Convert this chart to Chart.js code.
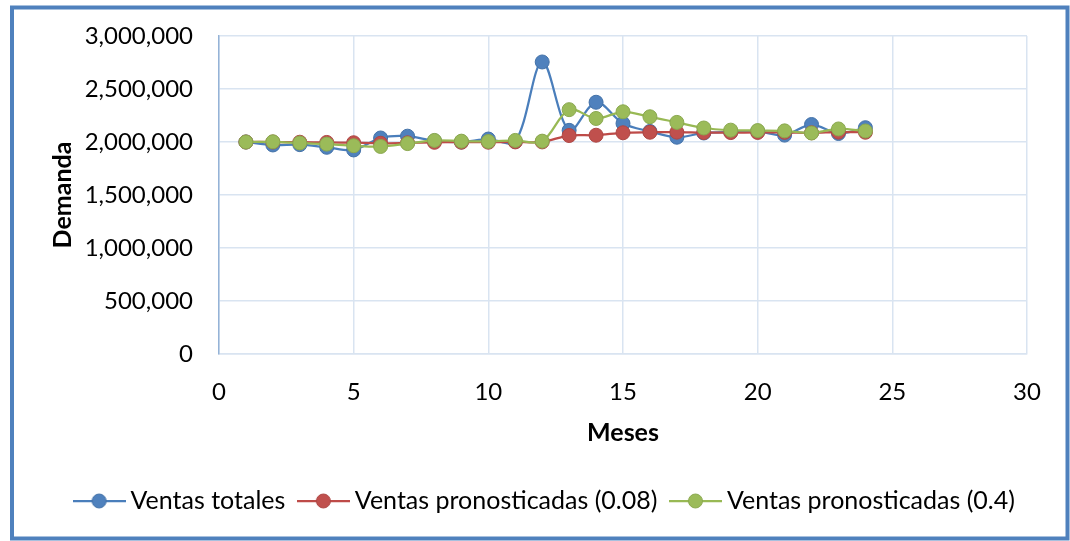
<!DOCTYPE html>
<html>
<head>
<meta charset="utf-8">
<script src="https://cdn.jsdelivr.net/npm/chart.js@4.4.1/dist/chart.umd.min.js"></script>
<style>
  html, body { margin: 0; padding: 0; background: #ffffff; }
  #wrap { position: relative; width: 1070px; height: 541px; }
</style>
</head>
<body>
<div id="wrap"><canvas id="c" width="1070" height="541"></canvas></div>
<script>
// ---- Data ----
const months = [1,2,3,4,5,6,7,8,9,10,11,12,13,14,15,16,17,18,19,20,21,22,23,24];
const ventasTotales = [2000000, 1972000, 1975000, 1950000, 1925000, 2038000, 2055000, 2010000, 2000000, 2028000, 2005000, 2755000, 2110000, 2375000, 2175000, 2100000, 2045000, 2085000, 2095000, 2100000, 2065000, 2165000, 2080000, 2135000];
const ventasPron008 = [2000000, 2000000, 1998000, 1996000, 1993000, 1988000, 1992000, 1997000, 1998000, 1998000, 2001000, 2001000, 2061000, 2064000, 2087000, 2092000, 2093000, 2089000, 2089000, 2090000, 2091000, 2087000, 2093000, 2092000];
const ventasPron04 = [2000000, 2002000, 1991000, 1980000, 1965000, 1958000, 1985000, 2015000, 2008000, 2005000, 2015000, 2008000, 2305000, 2222000, 2285000, 2238000, 2185000, 2132000, 2112000, 2108000, 2105000, 2085000, 2123000, 2104000];
const seriesNames = ['Ventas totales', 'Ventas pronosticadas (0.08)', 'Ventas pronosticadas (0.4)'];
const xTicks = [0, 5, 10, 15, 20, 25, 30];
const yTicks = [0, 500000, 1000000, 1500000, 2000000, 2500000, 3000000];

const FONT = 'Lato, "Open Sans", sans-serif';
const lineColors = ['#4a7ebb', '#be4b48', '#98b954'];
const fillColors = ['#4f81bd', '#c0504d', '#9bbb59'];
const edgeColors = ['#4472a8', '#ae4744', '#8aa84f'];

function toXY(vals) { return vals.map((v, i) => ({ x: months[i], y: v })); }

function makeIcon(i) {
  const cv = document.createElement('canvas');
  cv.width = 53; cv.height = 18;
  const g = cv.getContext('2d');
  g.strokeStyle = lineColors[i]; g.lineWidth = 2.25;
  g.beginPath(); g.moveTo(0, 9); g.lineTo(53, 9); g.stroke();
  g.beginPath(); g.arc(26.5, 9, 7, 0, Math.PI * 2);
  g.fillStyle = fillColors[i]; g.fill();
  g.lineWidth = 1; g.strokeStyle = edgeColors[i]; g.stroke();
  return cv;
}
const icons = [0, 1, 2].map(makeIcon);

const seriesData = [ventasTotales, ventasPron008, ventasPron04];
const datasets = seriesData.map((vals, i) => ({
  label: seriesNames[i],
  data: toXY(vals),
  borderColor: lineColors[i],
  backgroundColor: fillColors[i],
  pointBackgroundColor: fillColors[i],
  pointBorderColor: edgeColors[i],
  pointBorderWidth: 1,
  pointRadius: 7,
  pointHoverRadius: 7,
  borderWidth: 2.25,
  tension: 0.33,
  fill: false,
  order: 3 - i
}));

const LEGEND_SHIFT = 24;
const frame = {
  id: 'frame',
  afterLayout(chart) {
    if (chart.legend) { chart.legend.left += LEGEND_SHIFT; chart.legend.right += LEGEND_SHIFT; }
  },
  afterDraw(chart) {
    const g = chart.ctx;
    g.save();
    g.strokeStyle = '#4f81bd';
    g.lineWidth = 4;
    g.strokeRect(12, 7.5, 1055.5, 531);
    g.restore();
  }
};

new Chart(document.getElementById('c'), {
  type: 'line',
  data: { datasets },
  plugins: [frame],
  options: {
    responsive: false,
    animation: false,
    layout: { padding: { left: 20, right: 43, top: 36, bottom: 17.5 } },
    scales: {
      x: {
        type: 'linear',
        min: 0, max: 30,
        afterBuildTicks(scale) { scale.ticks = xTicks.map(v => ({ value: v })); },
        afterFit(scale) { scale.height = 115.5; },
        ticks: { color: '#000', font: { family: FONT, size: 24 }, padding: 24 },
        grid: { color: '#d9e4f1', lineWidth: 1.5, drawTicks: false },
        border: { color: '#d9e4f1', width: 1.5 },
        title: { display: true, text: 'Meses', color: '#000', font: { family: FONT, size: 25, weight: 'bold' }, padding: { top: 0, bottom: 21.5 } }
      },
      y: {
        type: 'linear',
        min: 0, max: 3000000,
        afterBuildTicks(scale) { scale.ticks = yTicks.map(v => ({ value: v })); },
        afterFit(scale) { scale.width = 199; },
        ticks: { color: '#000', font: { family: FONT, size: 24 }, padding: 6, callback: v => v.toLocaleString('en-US') },
        grid: { color: '#d9e4f1', lineWidth: 1.5, drawTicks: true, tickLength: 20, tickColor: 'rgba(0,0,0,0)' },
        border: { color: '#95b3d7', width: 1.5 },
        title: { display: true, text: 'Demanda', color: '#000', font: { family: FONT, size: 25, weight: 'bold' }, padding: { top: 28, bottom: 0 } }
      }
    },
    plugins: {
      tooltip: { enabled: false },
      legend: {
        position: 'bottom',
        labels: {
          usePointStyle: true,
          pointStyleWidth: 38,
          padding: 19,
          color: '#000',
          font: { family: FONT, size: 25 },
          sort: (a, b) => a.datasetIndex - b.datasetIndex,
          generateLabels(chart) {
            const items = Chart.defaults.plugins.legend.labels.generateLabels(chart);
            items.forEach(it => { it.pointStyle = icons[it.datasetIndex]; });
            return items;
          }
        }
      }
    }
  }
});
</script>
</body>
</html>
